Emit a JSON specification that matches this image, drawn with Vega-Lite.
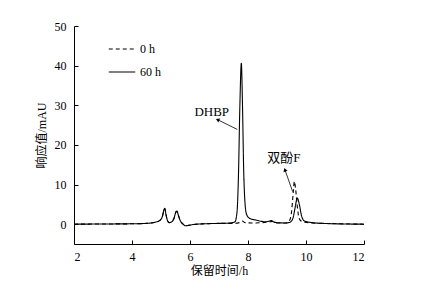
{
  "$schema": "https://vega.github.io/schema/vega-lite/v6.json",
  "width": 290,
  "height": 218,
  "autosize": "none",
  "padding": {"left": 74, "top": 26, "right": 58, "bottom": 43},
  "config": {
    "view": {"stroke": "transparent"}
  },
  "datasets": {
    "chrom": [
      {"t": 2, "v": 0, "s": "60 h"}, {"t": 3, "v": 0.05, "s": "60 h"}, {"t": 4, "v": 0.1, "s": "60 h"}, {"t": 4.5, "v": 0.2, "s": "60 h"},
      {"t": 4.8, "v": 0.5, "s": "60 h"}, {"t": 4.95, "v": 0.9, "s": "60 h"}, {"t": 5.05, "v": 2.0, "s": "60 h"}, {"t": 5.1, "v": 3.6, "s": "60 h"},
      {"t": 5.13, "v": 4.0, "s": "60 h"}, {"t": 5.17, "v": 2.5, "s": "60 h"}, {"t": 5.22, "v": 1.0, "s": "60 h"}, {"t": 5.28, "v": 0.4, "s": "60 h"},
      {"t": 5.35, "v": 0.5, "s": "60 h"}, {"t": 5.45, "v": 1.5, "s": "60 h"}, {"t": 5.52, "v": 3.2, "s": "60 h"}, {"t": 5.55, "v": 3.3, "s": "60 h"},
      {"t": 5.6, "v": 2.2, "s": "60 h"}, {"t": 5.67, "v": 0.8, "s": "60 h"}, {"t": 5.75, "v": 0.1, "s": "60 h"}, {"t": 5.85, "v": -0.4, "s": "60 h"},
      {"t": 5.95, "v": -0.3, "s": "60 h"}, {"t": 6.1, "v": -0.1, "s": "60 h"}, {"t": 6.5, "v": 0.1, "s": "60 h"}, {"t": 7.0, "v": 0.2, "s": "60 h"},
      {"t": 7.4, "v": 0.3, "s": "60 h"}, {"t": 7.55, "v": 0.6, "s": "60 h"}, {"t": 7.62, "v": 3, "s": "60 h"}, {"t": 7.67, "v": 12, "s": "60 h"},
      {"t": 7.72, "v": 30, "s": "60 h"}, {"t": 7.77, "v": 40.6, "s": "60 h"}, {"t": 7.81, "v": 30, "s": "60 h"}, {"t": 7.85, "v": 14, "s": "60 h"},
      {"t": 7.9, "v": 5, "s": "60 h"}, {"t": 7.95, "v": 2.5, "s": "60 h"}, {"t": 8.05, "v": 1.5, "s": "60 h"}, {"t": 8.3, "v": 1.0, "s": "60 h"},
      {"t": 8.6, "v": 0.6, "s": "60 h"}, {"t": 8.75, "v": 0.8, "s": "60 h"}, {"t": 8.8, "v": 0.9, "s": "60 h"}, {"t": 8.87, "v": 0.6, "s": "60 h"},
      {"t": 9.0, "v": 0.4, "s": "60 h"}, {"t": 9.3, "v": 0.3, "s": "60 h"}, {"t": 9.45, "v": 0.5, "s": "60 h"}, {"t": 9.55, "v": 1.5, "s": "60 h"},
      {"t": 9.62, "v": 4, "s": "60 h"}, {"t": 9.7, "v": 6.6, "s": "60 h"}, {"t": 9.77, "v": 5, "s": "60 h"}, {"t": 9.85, "v": 2, "s": "60 h"},
      {"t": 9.95, "v": 0.8, "s": "60 h"}, {"t": 10.2, "v": 0.4, "s": "60 h"}, {"t": 10.6, "v": 0.2, "s": "60 h"}, {"t": 11, "v": 0.1, "s": "60 h"},
      {"t": 12, "v": 0, "s": "60 h"},
      {"t": 2, "v": 0, "s": "0 h"}, {"t": 3, "v": 0.05, "s": "0 h"}, {"t": 4, "v": 0.1, "s": "0 h"}, {"t": 4.5, "v": 0.2, "s": "0 h"},
      {"t": 4.8, "v": 0.5, "s": "0 h"}, {"t": 4.95, "v": 0.9, "s": "0 h"}, {"t": 5.05, "v": 2.0, "s": "0 h"}, {"t": 5.1, "v": 3.5, "s": "0 h"},
      {"t": 5.13, "v": 3.9, "s": "0 h"}, {"t": 5.17, "v": 2.5, "s": "0 h"}, {"t": 5.22, "v": 1.0, "s": "0 h"}, {"t": 5.28, "v": 0.4, "s": "0 h"},
      {"t": 5.35, "v": 0.5, "s": "0 h"}, {"t": 5.45, "v": 1.5, "s": "0 h"}, {"t": 5.52, "v": 3.1, "s": "0 h"}, {"t": 5.55, "v": 3.2, "s": "0 h"},
      {"t": 5.6, "v": 2.2, "s": "0 h"}, {"t": 5.67, "v": 0.8, "s": "0 h"}, {"t": 5.75, "v": 0.1, "s": "0 h"}, {"t": 5.85, "v": -0.4, "s": "0 h"},
      {"t": 5.95, "v": -0.3, "s": "0 h"}, {"t": 6.1, "v": -0.1, "s": "0 h"}, {"t": 6.5, "v": 0.1, "s": "0 h"}, {"t": 7.0, "v": 0.2, "s": "0 h"},
      {"t": 7.5, "v": 0.2, "s": "0 h"}, {"t": 7.7, "v": 0.4, "s": "0 h"}, {"t": 7.8, "v": 0.8, "s": "0 h"}, {"t": 7.9, "v": 0.4, "s": "0 h"},
      {"t": 8.2, "v": 0.3, "s": "0 h"}, {"t": 8.75, "v": 0.6, "s": "0 h"}, {"t": 8.85, "v": 0.7, "s": "0 h"}, {"t": 9.0, "v": 0.3, "s": "0 h"},
      {"t": 9.3, "v": 0.3, "s": "0 h"}, {"t": 9.42, "v": 0.8, "s": "0 h"}, {"t": 9.5, "v": 3, "s": "0 h"}, {"t": 9.56, "v": 8, "s": "0 h"},
      {"t": 9.6, "v": 10.8, "s": "0 h"}, {"t": 9.64, "v": 9, "s": "0 h"}, {"t": 9.7, "v": 4.5, "s": "0 h"}, {"t": 9.76, "v": 1.5, "s": "0 h"},
      {"t": 9.85, "v": 0.7, "s": "0 h"}, {"t": 10.2, "v": 0.3, "s": "0 h"}, {"t": 10.6, "v": 0.2, "s": "0 h"}, {"t": 12, "v": 0, "s": "0 h"}
    ],
    "notes": [
      {"t": 6.75, "v": 28.4, "label": "DHBP"},
      {"t": 9.24, "v": 16.7, "label": "双酚F"}
    ],
    "pointers": [
      {"t": 7.63, "v": 23.9, "t2": 6.97, "v2": 26.3, "ang": 295},
      {"t": 9.54, "v": 8.2, "t2": 9.28, "v2": 13.6, "ang": 340}
    ]
  },
  "layer": [
    {
      "data": {"name": "chrom"},
      "mark": {"type": "line", "strokeWidth": 1.1, "color": "black", "interpolate": "monotone"},
      "encoding": {
        "x": {
          "field": "t", "type": "quantitative",
          "scale": {"domain": [2, 12], "nice": false, "zero": false},
          "axis": {
            "title": "保留时间/h",
            "values": [2, 3, 4, 5, 6, 7, 8, 9, 10, 11, 12],
            "labelExpr": "datum.value % 2 == 0 ? datum.label : ''",
            "grid": false,
            "tickSize": -4,
            "domainColor": "#000000",
            "domainWidth": 1,
            "tickColor": "#000000",
            "tickWidth": 1,
            "labelColor": "black",
            "titleColor": "black",
            "labelFont": "Liberation Serif",
            "titleFont": "Liberation Serif, Noto Sans CJK SC",
            "labelFontSize": 12,
            "titleFontSize": 12,
            "titleFontWeight": "normal",
            "labelPadding": 11,
            "titlePadding": 3
          }
        },
        "y": {
          "field": "v", "type": "quantitative",
          "scale": {"domain": [-5, 50], "nice": false, "zero": false},
          "axis": {
            "title": "响应值/mAU",
            "values": [0, 5, 10, 15, 20, 25, 30, 35, 40, 45, 50],
            "labelExpr": "datum.value % 10 == 0 ? datum.label : ''",
            "grid": false,
            "tickSize": -4,
            "domainColor": "#000000",
            "domainWidth": 1,
            "tickColor": "#000000",
            "tickWidth": 1,
            "labelColor": "black",
            "titleColor": "black",
            "labelFont": "Liberation Serif",
            "titleFont": "Liberation Serif, Noto Sans CJK SC",
            "labelFontSize": 12,
            "titleFontSize": 12,
            "titleFontWeight": "normal",
            "labelPadding": 12,
            "titlePadding": 6
          }
        },
        "strokeDash": {
          "field": "s", "type": "nominal",
          "scale": {"domain": ["0 h", "60 h"], "range": [[4, 3], [1, 0]]},
          "legend": {
            "title": null,
            "orient": "none",
            "legendX": 34,
            "legendY": 9,
            "symbolType": "stroke",
            "symbolSize": 700,
            "symbolStrokeColor": "black",
            "symbolStrokeWidth": 1.1,
            "labelFont": "Liberation Serif",
            "labelFontSize": 12,
            "labelColor": "black",
            "rowPadding": 3
          }
        }
      }
    },
    {
      "data": {"name": "pointers"},
      "mark": {"type": "rule", "color": "black", "strokeWidth": 0.8},
      "encoding": {
        "x": {"field": "t", "type": "quantitative"},
        "y": {"field": "v", "type": "quantitative"},
        "x2": {"field": "t2"},
        "y2": {"field": "v2"}
      }
    },
    {
      "data": {"name": "pointers"},
      "mark": {"type": "point", "shape": "triangle", "filled": true, "color": "black", "size": 18, "opacity": 1},
      "encoding": {
        "x": {"field": "t2", "type": "quantitative"},
        "y": {"field": "v2", "type": "quantitative"},
        "angle": {"field": "ang", "type": "quantitative", "scale": null}
      }
    },
    {
      "data": {"name": "notes"},
      "mark": {"type": "text", "font": "Liberation Serif, Noto Sans CJK SC", "fontSize": 13, "color": "black"},
      "encoding": {
        "x": {"field": "t", "type": "quantitative"},
        "y": {"field": "v", "type": "quantitative"},
        "text": {"field": "label"}
      }
    }
  ]
}
